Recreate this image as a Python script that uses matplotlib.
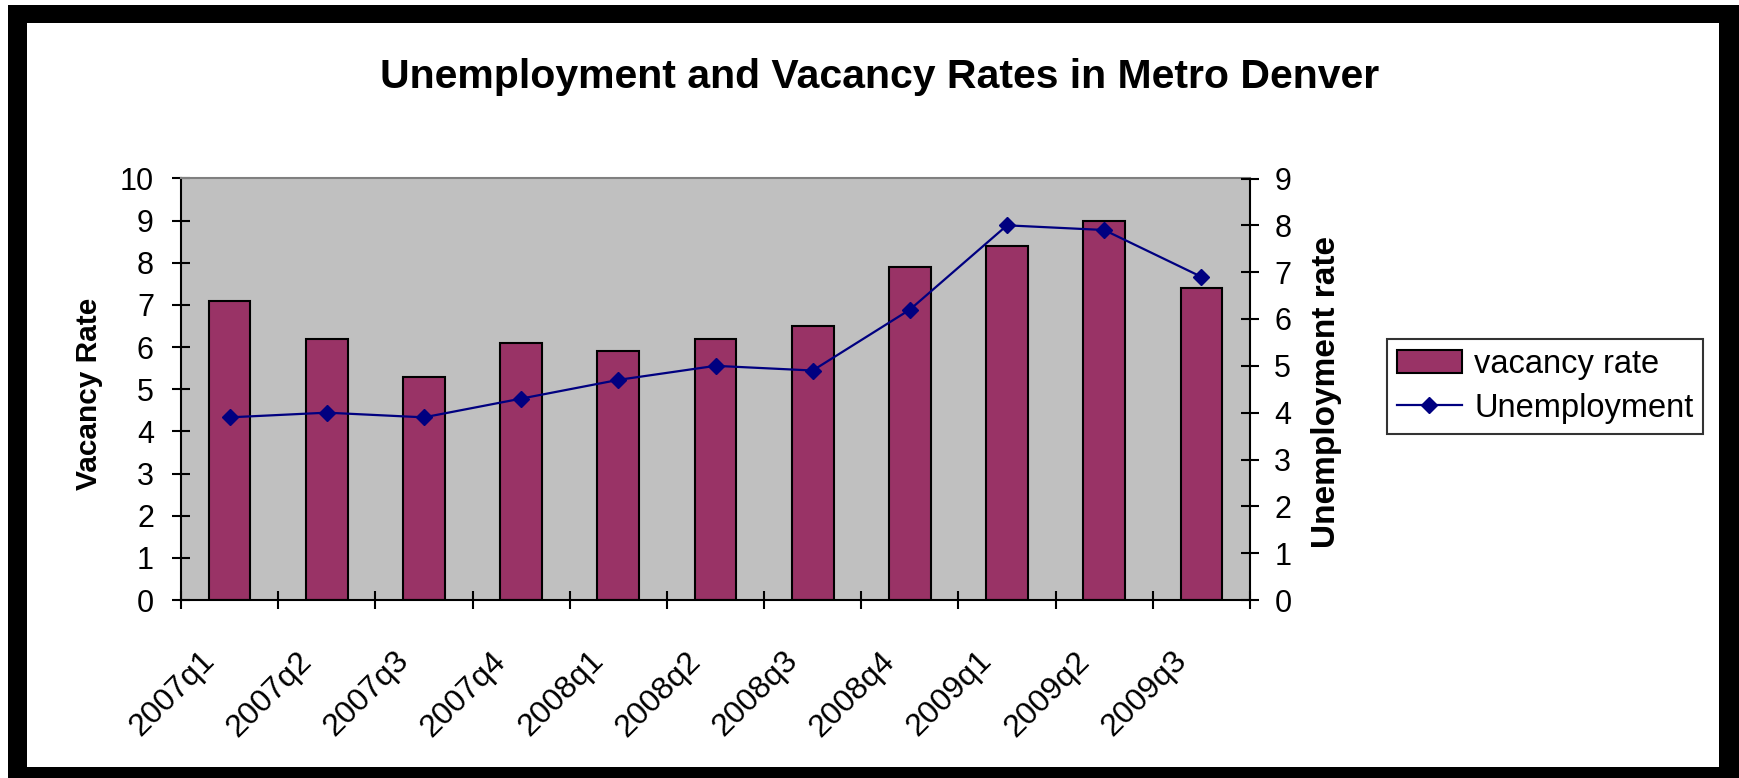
import matplotlib
matplotlib.use('Agg')
import matplotlib.pyplot as plt
import matplotlib.transforms as mtransforms
from matplotlib.patches import Rectangle
from matplotlib.ticker import FixedLocator
import numpy as np

# Quarterly data for Metro Denver
quarters = ['2007q1', '2007q2', '2007q3', '2007q4',
            '2008q1', '2008q2', '2008q3', '2008q4',
            '2009q1', '2009q2', '2009q3']
vacancy_rate = [7.1, 6.2, 5.3, 6.1, 5.9, 6.2, 6.5, 7.9, 8.4, 9.0, 7.4]
unemployment = [3.9, 4.0, 3.9, 4.3, 4.7, 5.0, 4.9, 6.2, 8.0, 7.9, 6.9]
vacancy_ticks = list(range(0, 11))
unemployment_ticks = list(range(0, 10))

plt.rcParams['font.family'] = ['Liberation Sans', 'DejaVu Sans']

W, H = 1739, 778
fig = plt.figure(figsize=(W / 100, H / 100), dpi=100)
fig.patch.set_facecolor('white')

# black frame around the chart
fig.patches.append(Rectangle((8 / W, 0), 1 - 8 / W, (H - 5) / H,
                             transform=fig.transFigure, facecolor='black',
                             edgecolor='none', zorder=-2))
fig.patches.append(Rectangle((27 / W, (H - 767) / H), (1719 - 27) / W, (767 - 23) / H,
                             transform=fig.transFigure, facecolor='white',
                             edgecolor='none', zorder=-1))

ax = fig.add_axes([181 / W, (H - 600) / H, (1250 - 181) / W, (600 - 178.5) / H])
ax.set_facecolor('#c0c0c0')

x = np.arange(len(quarters))
ax.bar(x, vacancy_rate, width=0.43, color='#993366', edgecolor='black',
       linewidth=1.5, label='vacancy rate', zorder=2)
ax.set_xlim(-0.5, len(quarters) - 0.5)
ax.set_ylim(0, 10)
ax.set_yticks(vacancy_ticks)
ax.tick_params(axis='y', direction='inout', length=13, width=1.5,
               labelsize=22, pad=13, colors='black')
ax.set_xticks(x)
ax.set_xticklabels(quarters, rotation=45, ha='right', va='top',
                   rotation_mode='anchor', fontsize=23)
ax.tick_params(axis='x', which='major', length=0, pad=33)
ax.xaxis.set_minor_locator(FixedLocator(np.arange(len(quarters) + 1) - 0.5))
ax.tick_params(axis='x', which='minor', direction='inout', length=13, width=1.5)
shift = mtransforms.ScaledTranslation(-30 / 100, 0, fig.dpi_scale_trans)
for lab in ax.get_xticklabels():
    lab.set_transform(lab.get_transform() + shift)

for side in ['left', 'bottom']:
    ax.spines[side].set_color('black')
    ax.spines[side].set_linewidth(1.5)
ax.spines['top'].set_color('#808080')
ax.spines['top'].set_linewidth(1.5)
ax.spines['right'].set_visible(False)

ax2 = ax.twinx()
ax2.plot(x, unemployment, color='#000080', linewidth=1.6, marker='D',
         markersize=8.5, markerfacecolor='#000080', markeredgecolor='#000080',
         label='Unemployment', zorder=3)
ax2.set_ylim(0, 9)
ax2.set_yticks(unemployment_ticks)
ax2.tick_params(axis='y', direction='inout', length=13, width=1.5,
                labelsize=22, pad=11)
for side in ['left', 'top', 'bottom']:
    ax2.spines[side].set_visible(False)
ax2.spines['right'].set_color('black')
ax2.spines['right'].set_linewidth(1.5)

# axis titles and chart title
fig.text(89 / W, 1 - 394 / H, 'Vacancy Rate', rotation=90, ha='center',
         va='center', fontsize=21.5, fontweight='bold')
fig.text(1327 / W, 1 - 392 / H, 'Unemployment rate', rotation=90, ha='center',
         va='center', fontsize=24, fontweight='bold')
fig.text(880 / W, 1 - 77 / H, 'Unemployment and Vacancy Rates in Metro Denver',
         ha='center', va='center', fontsize=29.5, fontweight='bold')

h1, l1 = ax.get_legend_handles_labels()
h2, l2 = ax2.get_legend_handles_labels()
leg = fig.legend(h1 + h2, l1 + l2, loc='upper left',
                 bbox_to_anchor=(1387 / W, 1 - 339 / H), borderaxespad=0,
                 fontsize=23.5, frameon=True, fancybox=False, edgecolor='black',
                 handlelength=2.0, handletextpad=0.37, borderpad=0.3,
                 labelspacing=0.4)
leg.get_frame().set_linewidth(1.5)

fig.savefig('out.png', dpi=100, facecolor='white')
